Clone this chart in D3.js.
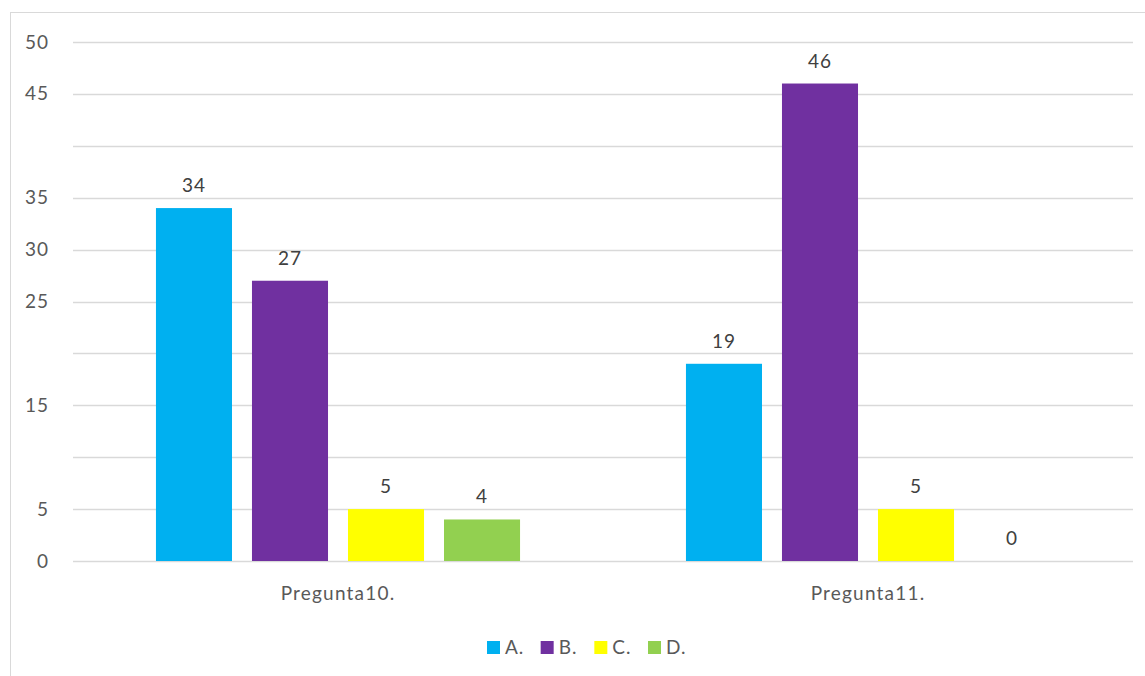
<!DOCTYPE html>
<html>
<head>
<meta charset="utf-8">
<script src="https://cdn.jsdelivr.net/npm/d3@7"></script>
<style>
  html, body { margin: 0; padding: 0; background: #fff; }
  svg { display: block; font-family: Lato, "Open Sans", sans-serif; }
</style>
</head>
<body>
<div id="chart"></div>
<script>
// Data
const categories = ["Pregunta10.", "Pregunta11."];
const series = ["A.", "B.", "C.", "D."];
const valuesA = [34, 19];
const valuesB = [27, 46];
const valuesC = [5, 5];
const valuesD = [4, 0];
const seriesColors = ["#00B0F0", "#7030A0", "#FFFF00", "#92D050"];
const gridValues = [0, 5, 10, 15, 20, 25, 30, 35, 40, 45, 50];
const tickLabels = [0, 5, 15, 25, 30, 35, 45, 50]; // the reference skips 10, 20, 40

const W = 1145, H = 676;
const margin = { top: 42, right: 12, bottom: 115, left: 73 };
const FONT = 19;

const svg = d3.select("#chart").append("svg")
  .attr("width", W)
  .attr("height", H);

// outer chart border
svg.append("rect")
  .attr("x", 10.5).attr("y", 12.5)
  .attr("width", W + 20).attr("height", H)
  .attr("fill", "none")
  .attr("stroke", "#d9d9d9");

const x0 = d3.scaleBand()
  .domain(categories)
  .range([margin.left, W - margin.right]);

const x1 = d3.scaleBand()
  .domain(series)
  .range([0, x0.bandwidth()])
  .paddingInner(0.208)
  .paddingOuter(0.864);

const y = d3.scaleLinear()
  .domain([0, 50])
  .range([H - margin.bottom, margin.top]);

// gridlines
svg.append("g")
  .selectAll("line")
  .data(gridValues)
  .join("line")
  .attr("x1", margin.left)
  .attr("x2", W - margin.right)
  .attr("y1", d => Math.round(y(d)) + 0.5)
  .attr("y2", d => Math.round(y(d)) + 0.5)
  .attr("stroke", "#d9d9d9")
  .attr("stroke-width", 1.5);

// y axis labels
const yAxis = d3.axisLeft(y).tickValues(tickLabels).tickSize(0).tickPadding(0);
svg.append("g")
  .attr("transform", `translate(${margin.left - 24},0)`)
  .call(yAxis)
  .call(g => g.select(".domain").remove())
  .call(g => g.selectAll("text")
    .attr("font-family", "Lato, 'Open Sans', sans-serif")
    .attr("font-size", FONT)
    .attr("letter-spacing", 1)
    .attr("fill", "#595959"));

// bars
const rows = categories.map((c, i) => ({
  cat: c,
  vals: [valuesA[i], valuesB[i], valuesC[i], valuesD[i]]
}));

const groups = svg.append("g")
  .selectAll("g")
  .data(rows)
  .join("g")
  .attr("transform", d => `translate(${x0(d.cat)},0)`);

groups.selectAll("rect")
  .data(d => d.vals.map((v, j) => ({ s: series[j], v, c: seriesColors[j] })))
  .join("rect")
  .attr("x", d => x1(d.s))
  .attr("y", d => y(d.v))
  .attr("width", x1.bandwidth())
  .attr("height", d => y(0) - y(d.v))
  .attr("fill", d => d.c);

groups.selectAll("text")
  .data(d => d.vals.map((v, j) => ({ s: series[j], v })))
  .join("text")
  .attr("x", d => x1(d.s) + x1.bandwidth() / 2)
  .attr("y", d => y(d.v) - 16)
  .attr("text-anchor", "middle")
  .attr("font-size", FONT)
  .attr("letter-spacing", 1)
  .attr("fill", "#404040")
  .text(d => d.v);

// category axis
const xAxis = d3.axisBottom(x0).tickSize(0).tickPadding(0);
svg.append("g")
  .attr("transform", `translate(0,${y(0) + 39})`)
  .call(xAxis)
  .call(g => g.select(".domain").remove())
  .call(g => g.selectAll("text")
    .attr("font-family", "Lato, 'Open Sans', sans-serif")
    .attr("font-size", FONT)
    .attr("letter-spacing", 1.2)
    .attr("fill", "#595959")
    .attr("dy", 0));

// legend
const legendX = d3.scalePoint()
  .domain(series)
  .range([487, 648]);

const legend = svg.append("g")
  .selectAll("g")
  .data(series)
  .join("g")
  .attr("transform", d => `translate(${legendX(d)},641)`);

legend.append("rect")
  .attr("width", 13).attr("height", 13)
  .attr("fill", (d, i) => seriesColors[i]);

legend.append("text")
  .attr("x", 18).attr("y", 13)
  .attr("font-size", FONT)
  .attr("letter-spacing", 1)
  .attr("fill", "#595959")
  .text(d => d);
</script>
</body>
</html>
